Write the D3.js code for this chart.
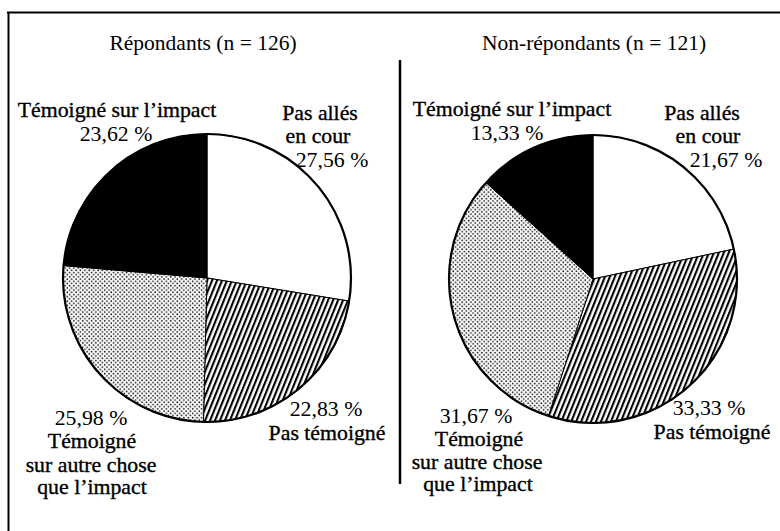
<!DOCTYPE html>
<html><head><meta charset="utf-8">
<script src="https://cdn.jsdelivr.net/npm/d3@7"></script>
<style>html,body{margin:0;padding:0;background:#fff;}svg{display:block;}
text{font-family:"Liberation Serif","DejaVu Serif",serif;}</style>
</head><body>
<svg id="chart" width="780" height="531"></svg>
<script>
// ---- data ----
const categories = ["Pas allés en cour", "Pas témoigné", "Témoigné sur autre chose que l'impact", "Témoigné sur l'impact"];
const categoryLines = [["Pas allés", "en cour"], ["Pas témoigné"], ["Témoigné", "sur autre chose", "que l’impact"], ["Témoigné sur l’impact"]];
const groupTitles = ["Répondants (n = 126)", "Non-répondants (n = 121)"];
const respondantsValues = [27.56, 22.83, 25.98, 23.62];
const nonRespondantsValues = [21.67, 33.33, 31.67, 13.33];

// ---- layout ----
const svg = d3.select("#chart");
const W = 780, H = 531;
const R = 144;
const FS_TITLE = 21.5, FS = 21.8;
const fills = ["#ffffff", "url(#stripes)", "url(#dots)", "#000000"];
const panels = [
  { title: groupTitles[0], values: respondantsValues, cx: 207, cy: 278, titleX: 203,
    labels: [
      { lines: [[113, -158], [111, -135]], pct: [125, -111] },
      { pct: [119, 138], lines: [[120, 162]] },
      { pct: [-116, 147], lines: [[-115, 170], [-116, 194], [-115, 216]] },
      { lines: [[-90, -161]], pct: [-91, -137] }
    ] },
  { title: groupTitles[1], values: nonRespondantsValues, cx: 593, cy: 279, titleX: 594,
    labels: [
      { lines: [[109, -159], [115, -136]], pct: [133, -112] },
      { pct: [116, 136], lines: [[119, 160]] },
      { pct: [-117, 144], lines: [[-114, 167], [-116, 190], [-115, 212]] },
      { lines: [[-81, -163]], pct: [-86, -139] }
    ] }
];

// patterns
const defs = svg.append("defs");
const stripes = defs.append("pattern").attr("id", "stripes").attr("patternUnits", "userSpaceOnUse")
  .attr("width", 4.6).attr("height", 10).attr("patternTransform", "rotate(22)");
stripes.append("rect").attr("width", 4.6).attr("height", 10).attr("fill", "#fff");
stripes.append("rect").attr("x", 0).attr("width", 2.1).attr("height", 10).attr("fill", "#000");
const dots = defs.append("pattern").attr("id", "dots").attr("patternUnits", "userSpaceOnUse")
  .attr("width", 4.4).attr("height", 4.4);
dots.append("rect").attr("width", 4.4).attr("height", 4.4).attr("fill", "#fff");
dots.append("circle").attr("cx", 1.1).attr("cy", 1.1).attr("r", 0.85).attr("fill", "#111");
dots.append("circle").attr("cx", 3.3).attr("cy", 3.3).attr("r", 0.85).attr("fill", "#111");

// frame
svg.append("line").attr("x1", 7).attr("x2", W).attr("y1", 12.5).attr("y2", 12.5).attr("stroke", "#000").attr("stroke-width", 2);
svg.append("line").attr("x1", 8.5).attr("x2", 8.5).attr("y1", 12).attr("y2", H).attr("stroke", "#000").attr("stroke-width", 2);
svg.append("line").attr("x1", 400).attr("x2", 400).attr("y1", 60).attr("y2", 484).attr("stroke", "#000").attr("stroke-width", 2.5);

const pie = d3.pie().sort(null).value(d => d);
const arc = d3.arc().innerRadius(0).outerRadius(R);
const fmt = v => d3.format(".2f")(v).replace(".", ",") + " %";

panels.forEach(p => {
  svg.append("text").attr("x", p.titleX).attr("y", 50).attr("text-anchor", "middle")
    .attr("font-size", FS_TITLE).attr("fill", "#000").text(p.title);
  const g = svg.append("g").attr("transform", `translate(${p.cx},${p.cy})`);
  const arcs = pie(p.values);
  g.selectAll("path.slice").data(arcs).join("path").attr("class", "slice")
    .attr("d", arc).attr("fill", (d, i) => fills[i]).attr("stroke", "#000").attr("stroke-width", 1);
  g.append("circle").attr("r", R).attr("fill", "none").attr("stroke", "#000").attr("stroke-width", 2.2);

  arcs.forEach((a, i) => {
    const L = p.labels[i];
    g.append("text").attr("x", L.pct[0]).attr("y", L.pct[1]).attr("text-anchor", "middle")
      .attr("font-size", FS).attr("fill", "#000").text(fmt(a.data));
    categoryLines[i].forEach((line, j) => {
      g.append("text").attr("x", L.lines[j][0]).attr("y", L.lines[j][1]).attr("text-anchor", "middle")
        .attr("font-size", FS).attr("fill", "#000")
        .attr("stroke", "#000").attr("stroke-width", 0.35).text(line);
    });
  });
});
</script>
</body></html>
